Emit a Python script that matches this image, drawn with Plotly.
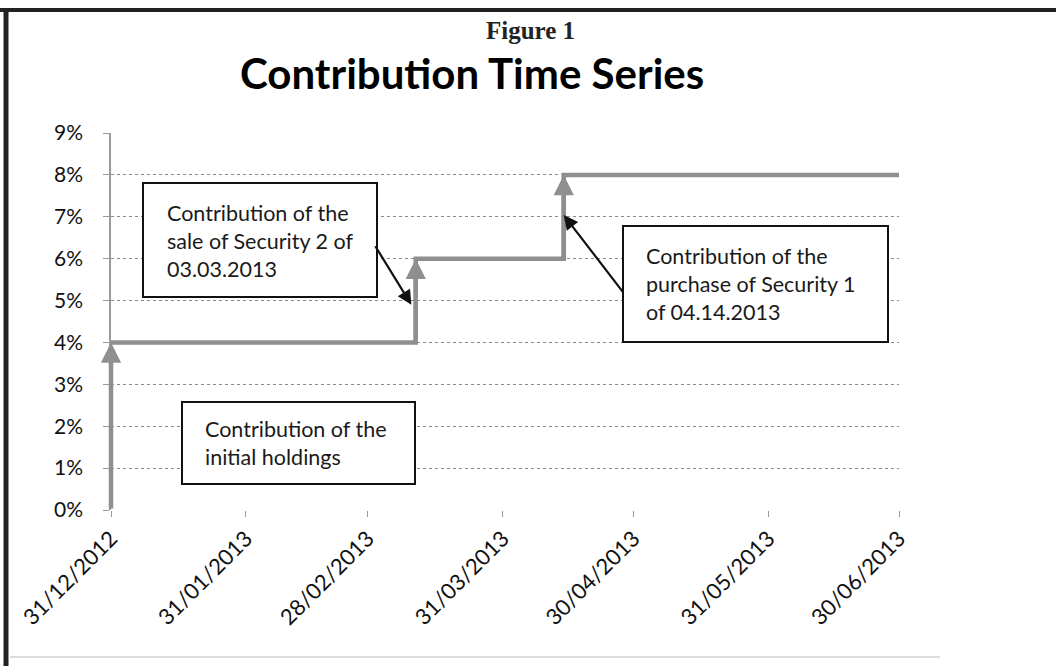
import plotly.graph_objects as go

# ---- data ----
step_dates = ["2012-12-31", "2013-03-11", "2013-04-14", "2013-06-30"]
step_values = [0.04, 0.06, 0.08, 0.08]
jump_dates = ["2012-12-31", "2013-03-11", "2013-04-14"]
jump_from = [0.0, 0.04, 0.06]
jump_to = [0.04, 0.06, 0.08]

tick_dates = ["2012-12-31", "2013-01-31", "2013-02-28", "2013-03-31",
              "2013-04-30", "2013-05-31", "2013-06-30"]
tick_labels = ["31/12/2012", "31/01/2013", "28/02/2013", "31/03/2013",
               "30/04/2013", "31/05/2013", "30/06/2013"]

box_texts = [
    "Contribution of the<br>sale of Security 2 of<br>03.03.2013",
    "Contribution of the<br>purchase of Security 1<br>of 04.14.2013",
    "Contribution of the<br>initial holdings",
]
# arrow targets (data coords) for the call-out boxes
callout_x = ["2013-03-10", "2013-04-14", "2012-12-30"]
callout_y = [0.049, 0.0704, 0.0175]

W, H = 1056, 666
L, R, T, B = 111, 157, 133, 156
PW, PH = W - L - R, H - T - B


def px(x):
    return (x - L) / PW


def py(y):
    return (H - B - y) / PH


GRAY = "#8f8f8f"
FONT = "Lato"

fig = go.Figure()
fig.add_trace(go.Scatter(
    x=step_dates, y=step_values, mode="lines", line_shape="hv",
    line=dict(color=GRAY, width=4.5), showlegend=False, hoverinfo="skip"))

annotations = []
# gray arrows on jumps
for d, y0, y1 in zip(jump_dates, jump_from, jump_to):
    annotations.append(dict(
        x=d, y=y1, ax=d, ay=y0, xref="x", yref="y", axref="x", ayref="y",
        text="", showarrow=True, arrowhead=2, arrowsize=0.9, arrowwidth=4.5,
        arrowcolor=GRAY, standoff=0))

# callout boxes (pixel geometry) as shapes
boxes = [(143, 183, 377, 297), (623, 226, 888, 342), (182, 402, 415, 484)]
text_pos = [(165, 241), (644, 284), (203, 443)]
shapes = []
for (x0, y0, x1, y1) in boxes:
    shapes.append(dict(type="rect", xref="paper", yref="paper",
                       x0=px(x0), x1=px(x1), y0=py(y1), y1=py(y0),
                       line=dict(color="#111", width=2), fillcolor="white",
                       layer="above"))
for txt, (tx, ty) in zip(box_texts, text_pos):
    annotations.append(dict(
        x=px(tx), y=py(ty), xref="paper", yref="paper", text=txt,
        showarrow=False, xanchor="left", yanchor="middle", align="left",
        font=dict(family=FONT, size=21.5, color="#1a1a1a")))

# black call-out arrows
tails = [(378, 245), (623, 293), (182, 445)]
heads_px = [(415, 305), (563, 215), (107, 437)]
for cx, cy, (tx, ty), (hx, hy) in zip(callout_x, callout_y, tails, heads_px):
    annotations.append(dict(
        x=cx, y=cy, xref="x", yref="y", ax=tx - hx, ay=ty - hy,
        text="", showarrow=True, arrowhead=2, arrowsize=1.3, arrowwidth=2.2,
        arrowcolor="#111", standoff=0))

# titles
annotations.append(dict(x=px(530), y=py(30), xref="paper", yref="paper",
                        xanchor="center", yanchor="middle",
                        text="<b>Figure 1</b>", showarrow=False,
                        font=dict(family="Liberation Serif", size=25, color="#222")))
annotations.append(dict(x=px(472), y=py(73), xref="paper", yref="paper",
                        xanchor="center", yanchor="middle",
                        text="<b>Contribution Time Series</b>", showarrow=False,
                        font=dict(family=FONT, size=42, color="#000")))

# outer frame
shapes.append(dict(type="line", xref="paper", yref="paper",
                   x0=px(0), x1=px(W), y0=py(10), y1=py(10),
                   line=dict(color="#222", width=4)))
shapes.append(dict(type="line", xref="paper", yref="paper",
                   x0=px(6), x1=px(6), y0=py(9), y1=py(H),
                   line=dict(color="#222", width=5)))
shapes.append(dict(type="line", xref="paper", yref="paper",
                   x0=px(10), x1=px(940), y0=py(657), y1=py(657),
                   line=dict(color="#dddddd", width=2)))

fig.update_layout(
    width=W, height=H, margin=dict(l=L, r=R, t=T, b=B),
    paper_bgcolor="white", plot_bgcolor="white",
    annotations=annotations, shapes=shapes,
    font=dict(family=FONT, color="#222"),
    xaxis=dict(type="date", range=[tick_dates[0], tick_dates[-1]],
               tickvals=tick_dates, ticktext=tick_labels, tickangle=-45,
               showgrid=False, zeroline=False, showline=False,
               ticks="outside", ticklen=6, tickcolor="#999",
               tickfont=dict(family=FONT, size=22, color="#111")),
    yaxis=dict(range=[0, 0.09], dtick=0.01, tickformat=".0%",
               showgrid=True, gridcolor="#8a8a8a", griddash="dot", gridwidth=1.3,
               zeroline=False, showline=True, linecolor="#9a9a9a", linewidth=1.5,
               ticks="outside", ticklen=6, tickcolor="#999",
               ticklabelstandoff=16,
               tickfont=dict(family=FONT, size=21, color="#111")),
)

fig.write_html("out.html", config={"displayModeBar": False},
               post_script="document.body.style.margin='0';document.body.style.overflow='hidden';")
